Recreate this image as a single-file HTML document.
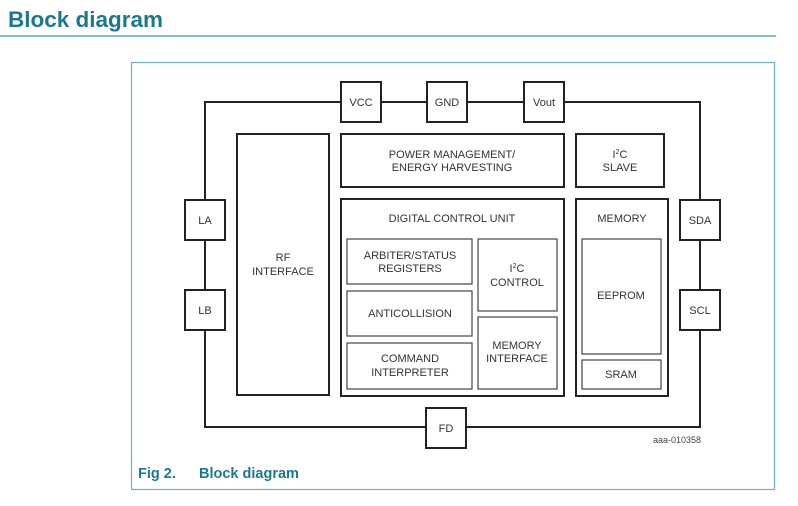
<!DOCTYPE html>
<html><head><style>
html,body{margin:0;padding:0;background:#fff;width:798px;height:506px;overflow:hidden}
svg{display:block}
</style></head><body>
<svg width="798" height="506" viewBox="0 0 798 506" xmlns="http://www.w3.org/2000/svg" font-family="Liberation Sans, sans-serif">
<text x="8" y="27" font-size="22.5" font-weight="bold" fill="#1a7a8c">Block diagram</text>
<line x1="0" y1="36" x2="776" y2="36" stroke="#3a9aae" stroke-width="1.2"/>
<rect x="131.5" y="62.5" width="643" height="427" fill="none" stroke="#6fb0c0" stroke-width="1.2"/>
<rect x="205" y="102" width="495" height="325" fill="none" stroke="#222" stroke-width="2"/>
<g fill="#fff" stroke="#222" stroke-width="2">
<rect x="341" y="82" width="40" height="40"/>
<rect x="427" y="82" width="40" height="40"/>
<rect x="524" y="82" width="40" height="40"/>
<rect x="185" y="200" width="40" height="40"/>
<rect x="185" y="290" width="40" height="40"/>
<rect x="680" y="200" width="40" height="40"/>
<rect x="680" y="290" width="40" height="40"/>
<rect x="426" y="408" width="40" height="40"/>
<rect x="237" y="134" width="92" height="261"/>
<rect x="341" y="134" width="223" height="53"/>
<rect x="576" y="134" width="88" height="53"/>
<rect x="341" y="199" width="223" height="197"/>
<rect x="576" y="199" width="92" height="197"/>
</g>
<g fill="#fff" stroke="#444" stroke-width="1.2">
<rect x="347" y="239" width="125" height="45"/>
<rect x="347" y="291" width="125" height="45"/>
<rect x="347" y="343" width="125" height="46"/>
<rect x="478" y="239" width="79" height="72"/>
<rect x="478" y="317" width="79" height="72"/>
<rect x="582" y="239" width="79" height="115"/>
<rect x="582" y="360" width="79" height="29"/>
</g>
<g font-size="11" fill="#333" text-anchor="middle">
<text x="361" y="106">VCC</text>
<text x="447" y="106">GND</text>
<text x="544" y="106">Vout</text>
<text x="205" y="224">LA</text>
<text x="205" y="314">LB</text>
<text x="700" y="224">SDA</text>
<text x="700" y="314">SCL</text>
<text x="446" y="432">FD</text>
<text x="283" y="261">RF</text>
<text x="283" y="275">INTERFACE</text>
<text x="452" y="158">POWER MANAGEMENT/</text>
<text x="452" y="171">ENERGY HARVESTING</text>
<text x="620" y="158">I<tspan font-size="7" dy="-4">2</tspan><tspan dy="4">C</tspan></text>
<text x="620" y="171">SLAVE</text>
<text x="452" y="222">DIGITAL CONTROL UNIT</text>
<text x="622" y="222">MEMORY</text>
<text x="410" y="259">ARBITER/STATUS</text>
<text x="410" y="272">REGISTERS</text>
<text x="410" y="317">ANTICOLLISION</text>
<text x="410" y="362">COMMAND</text>
<text x="410" y="376">INTERPRETER</text>
<text x="517" y="272">I<tspan font-size="7" dy="-4">2</tspan><tspan dy="4">C</tspan></text>
<text x="517" y="286">CONTROL</text>
<text x="517" y="349">MEMORY</text>
<text x="517" y="362">INTERFACE</text>
<text x="621" y="299">EEPROM</text>
<text x="621" y="378">SRAM</text>
</g>
<text x="701" y="443" font-size="9" fill="#444" text-anchor="end">aaa-010358</text>
<text x="138" y="478" font-size="14.5" font-weight="bold" fill="#1a7a8c">Fig 2.</text>
<text x="199" y="478" font-size="14.5" font-weight="bold" fill="#1a7a8c">Block diagram</text>
</svg>
</body></html>
